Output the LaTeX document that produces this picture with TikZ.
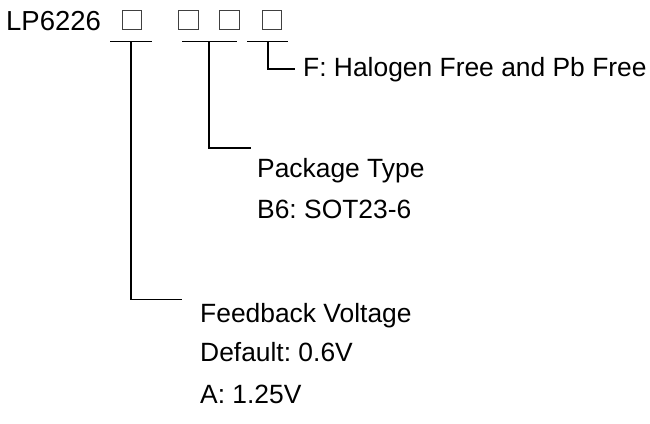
\documentclass[tikz,border=0pt]{standalone}
\usepackage{fontspec}
\setmainfont{Liberation Sans}
\frenchspacing
\begin{document}
\begin{tikzpicture}[x=1pt,y=-1pt,
  lbl/.style={anchor=base west,inner sep=0pt,font=\fontsize{26.4}{30}\selectfont},
  slot/.style={draw=black!75,line width=0.9pt,minimum width=19.5pt,minimum height=19.5pt,inner sep=0pt},
  bar/.style={draw=black,line width=1.4pt},
  lead/.style={draw=black,line width=1.4pt}]
\useasboundingbox (0,0) rectangle (650,423);
% part number
\node[lbl,font=\fontsize{27.5}{30}\selectfont] (title) at (6,30) {LP6226};
\node[slot] (b1) at (131.7,19.7) {};
\node[slot] (b2) at (188.2,19.7) {};
\node[slot] (b3) at (229.5,19.7) {};
\node[slot] (b4) at (272,19.7) {};
% underlines
\coordinate (u1l) at (110,41.5); \coordinate (u1r) at (152,41.5);
\coordinate (u2l) at (182,41.5); \coordinate (u2r) at (237,41.5);
\coordinate (u3l) at (247,41.5); \coordinate (u3r) at (288,41.5);
\draw[bar] (u1l) -- (u1r);
\draw[bar] (u2l) -- (u2r);
\draw[bar] (u3l) -- (u3r);
% stems
\coordinate (s1) at (131,41.5); \coordinate (e1) at (182,299.5);
\coordinate (s2) at (209,41.5); \coordinate (e2) at (251,148);
\coordinate (s3) at (268,41.5); \coordinate (e3) at (295,69);
\draw[lead] (s1) |- (e1);
\draw[lead] (s2) |- (e2);
\draw[lead] (s3) |- (e3);
% labels
\node[lbl] (hf) at (303,76) {F: Halogen Free and Pb Free};
\node[lbl] (pt) at (257,177) {Package Type};
\node[lbl] (b6) at (257,218) {B6: SOT23-6};
\node[lbl] (fv) at (200,322) {Feedback Voltage};
\node[lbl] (df) at (200,361) {Default: 0.6V};
\node[lbl] (av) at (200,403) {A: 1.25V};
\end{tikzpicture}
\end{document}
